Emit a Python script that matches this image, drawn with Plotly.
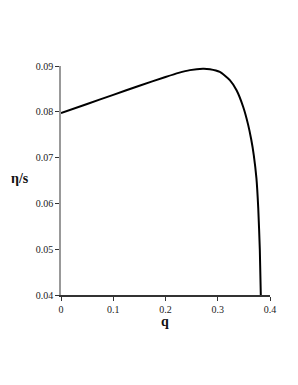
import plotly.graph_objects as go

q = [0, 0.05, 0.1, 0.15, 0.2, 0.225, 0.2467, 0.2715, 0.285, 0.304, 0.3231, 0.336, 0.3486,
     0.3581, 0.364, 0.369, 0.374, 0.3775, 0.3805, 0.3824]
eta_s = [0.0797, 0.0817, 0.0837, 0.0857, 0.0876, 0.0885, 0.0891, 0.0894, 0.0893, 0.0887, 0.0869,
         0.0847, 0.0811, 0.0772, 0.0740, 0.0705, 0.0655, 0.0590, 0.0500, 0.0400]

x_ticks = [0, 0.1, 0.2, 0.3, 0.4]
x_tick_labels = ["0", "0.1", "0.2", "0.3", "0.4"]
y_ticks = [0.04, 0.05, 0.06, 0.07, 0.08, 0.09]
y_tick_labels = ["0.04", "0.05", "0.06", "0.07", "0.08", "0.09"]

font = "Liberation Serif"

# page body offset (browser default margin) compensation
OFF = 8
L, T = 61 - OFF, 66 - OFF
R, B = 28 + OFF, 90 + OFF
W, H = 298, 385

fig = go.Figure()
fig.add_trace(go.Scatter(x=q, y=eta_s, mode="lines",
                         line=dict(color="black", width=2, shape="spline", smoothing=0.5),
                         showlegend=False, hoverinfo="skip"))

pw, ph = W - L - R, H - T - B


def paper(px, py):
    return (px - OFF - L) / pw, 1 - (py - OFF - T) / ph


ax_, ay_ = paper(20, 178)
bx_, by_ = paper(165, 321)

fig.update_layout(
    width=W, height=H,
    margin=dict(l=L, r=R, t=T, b=B, autoexpand=False),
    paper_bgcolor="white", plot_bgcolor="white",
    font=dict(family=font, size=10, color="#222"),
    xaxis=dict(range=[0, 0.4], tickvals=x_ticks, ticktext=x_tick_labels,
               showgrid=False, zeroline=False, showline=True, linecolor="#333", linewidth=1.5,
               ticks="outside", ticklen=4, tickcolor="#333", tickfont=dict(family=font, size=10)),
    yaxis=dict(range=[0.04, 0.09], tickvals=y_ticks, ticktext=y_tick_labels,
               showgrid=False, zeroline=False, showline=True, linecolor="#999", linewidth=1.5,
               ticks="outside", ticklen=4, tickcolor="#333", tickfont=dict(family=font, size=10)),
    annotations=[
        dict(text="<b>η/s</b>", x=ax_, y=ay_, xref="paper", yref="paper", showarrow=False,
             xanchor="center", yanchor="middle", font=dict(family=font, size=14, color="#111")),
        dict(text="<b>q</b>", x=bx_, y=by_, xref="paper", yref="paper", showarrow=False,
             xanchor="center", yanchor="middle", font=dict(family=font, size=14, color="#111")),
    ],
)

fig.write_html("out.html")
